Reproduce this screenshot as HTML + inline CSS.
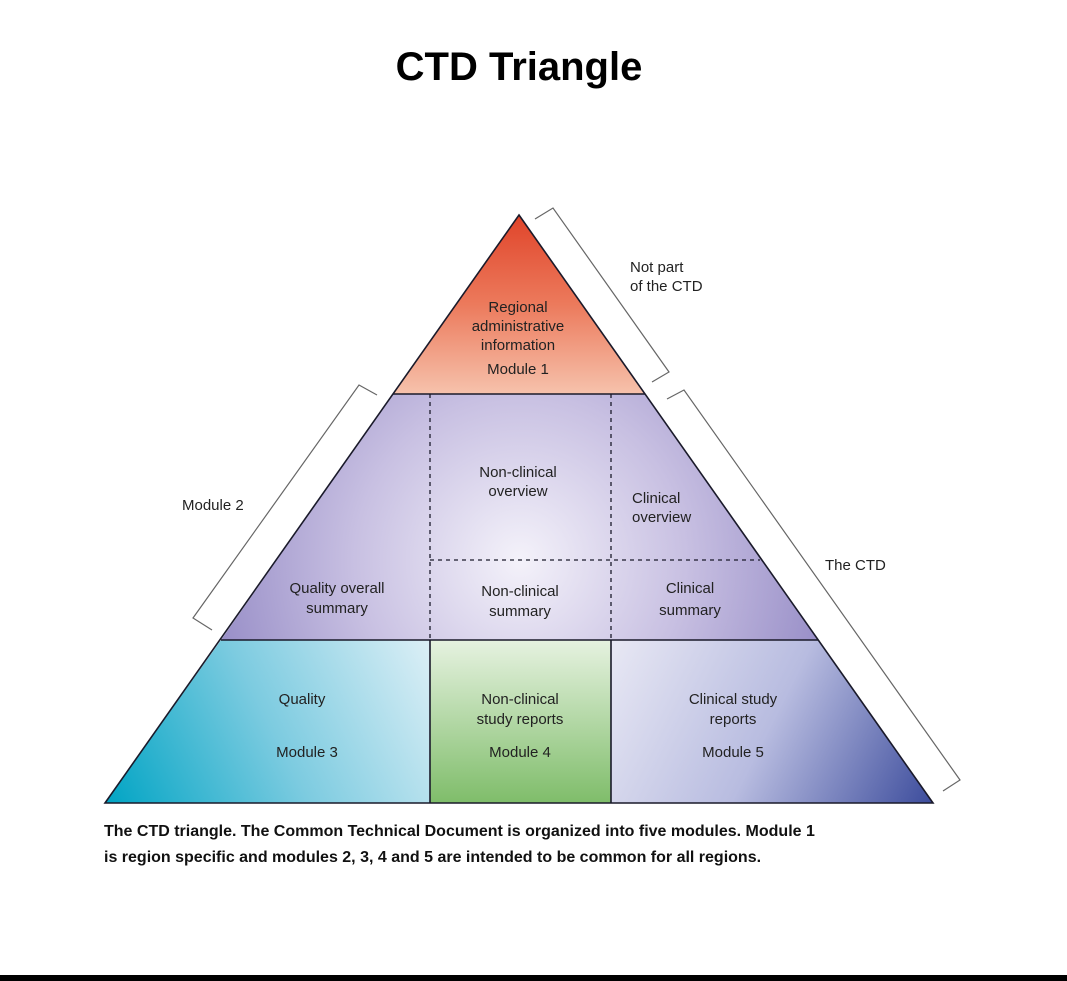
<!DOCTYPE html>
<html><head><meta charset="utf-8"><style>
html,body{margin:0;padding:0;background:#fff;}
body{width:1067px;height:981px;position:relative;overflow:hidden;font-family:"Liberation Sans",sans-serif;}
</style></head><body>
<svg width="1067" height="981" viewBox="0 0 1067 981" xmlns="http://www.w3.org/2000/svg" style="position:absolute;left:0;top:0">
<defs>
<linearGradient id="g1" x1="0" y1="0" x2="0" y2="1">
<stop offset="0" stop-color="#e0442a"/><stop offset="0.5" stop-color="#ec7a5c"/><stop offset="1" stop-color="#f6c2ac"/></linearGradient>
<radialGradient id="g2" cx="520" cy="560" r="330" gradientUnits="userSpaceOnUse">
<stop offset="0" stop-color="#f4f2fa"/><stop offset="0.5" stop-color="#c8c0e2"/><stop offset="1" stop-color="#9288c4"/></radialGradient>
<linearGradient id="g3" x1="105" y1="803" x2="430" y2="640" gradientUnits="userSpaceOnUse">
<stop offset="0" stop-color="#00a4c4"/><stop offset="0.5" stop-color="#7ccbe0"/><stop offset="1" stop-color="#dceff6"/></linearGradient>
<linearGradient id="g4" x1="0" y1="640" x2="0" y2="803" gradientUnits="userSpaceOnUse">
<stop offset="0" stop-color="#e6f2e0"/><stop offset="1" stop-color="#7fbd6a"/></linearGradient>
<linearGradient id="g5" x1="611" y1="640" x2="933" y2="803" gradientUnits="userSpaceOnUse">
<stop offset="0" stop-color="#e8e8f4"/><stop offset="0.5" stop-color="#b8bce0"/><stop offset="1" stop-color="#3c4c9c"/></linearGradient>
</defs>
<text x="519" y="80" text-anchor="middle" font-size="40" font-weight="bold" fill="#000">CTD Triangle</text>
<polygon points="519,215 645,394 393,394" fill="url(#g1)"/>
<polygon points="393,394 645,394 818,640 221,640" fill="url(#g2)"/>
<polygon points="221,640 430,640 430,803 105,803" fill="url(#g3)"/>
<rect x="430" y="640" width="181" height="163" fill="url(#g4)"/>
<polygon points="611,640 818,640 933,803 611,803" fill="url(#g5)"/>
<g stroke="#1a1a2a" stroke-width="1.6" fill="none">
<polygon points="519,215 933,803 105,803"/>
<line x1="393" y1="394" x2="645" y2="394"/>
<line x1="221" y1="640" x2="818" y2="640"/>
<line x1="430" y1="640" x2="430" y2="803"/>
<line x1="611" y1="640" x2="611" y2="803"/>
</g>
<g stroke="#1a1a2a" stroke-width="1.3" stroke-dasharray="4,4" fill="none">
<line x1="430" y1="394" x2="430" y2="640"/>
<line x1="611" y1="394" x2="611" y2="640"/>
<line x1="430" y1="560" x2="760" y2="560"/>
</g>
<g stroke="#666" stroke-width="1.2" fill="none">
<polyline points="535,219 553,208 669,372 652,382"/>
<polyline points="667,399 684,390 960,780 943,791"/>
<polyline points="377,395 359,385 193,618 212,630"/>
</g>
<g font-size="15" fill="#222" text-anchor="middle">
<text x="518" y="312">Regional</text>
<text x="518" y="331">administrative</text>
<text x="518" y="350">information</text>
<text x="518" y="374">Module 1</text>
<text x="518" y="477">Non-clinical</text>
<text x="518" y="496">overview</text>
<text x="632" y="503" text-anchor="start">Clinical</text>
<text x="632" y="522" text-anchor="start">overview</text>
<text x="337" y="593">Quality overall</text>
<text x="337" y="613">summary</text>
<text x="520" y="596">Non-clinical</text>
<text x="520" y="616">summary</text>
<text x="690" y="593">Clinical</text>
<text x="690" y="615">summary</text>
<text x="302" y="704">Quality</text>
<text x="307" y="757">Module 3</text>
<text x="520" y="704">Non-clinical</text>
<text x="520" y="724">study reports</text>
<text x="520" y="757">Module 4</text>
<text x="733" y="704">Clinical study</text>
<text x="733" y="724">reports</text>
<text x="733" y="757">Module 5</text>
<text x="630" y="272" text-anchor="start">Not part</text>
<text x="630" y="291" text-anchor="start">of the CTD</text>
<text x="825" y="570" text-anchor="start">The CTD</text>
<text x="182" y="510" text-anchor="start">Module 2</text>
</g>
<g font-size="16" font-weight="bold" fill="#111">
<text x="104" y="836">The CTD triangle. The Common Technical Document is organized into five modules. Module 1</text>
<text x="104" y="862">is region specific and modules 2, 3, 4 and 5 are intended to be common for all regions.</text>
</g>
<rect x="0" y="975" width="1067" height="6" fill="#000"/>
</svg>
</body></html>
